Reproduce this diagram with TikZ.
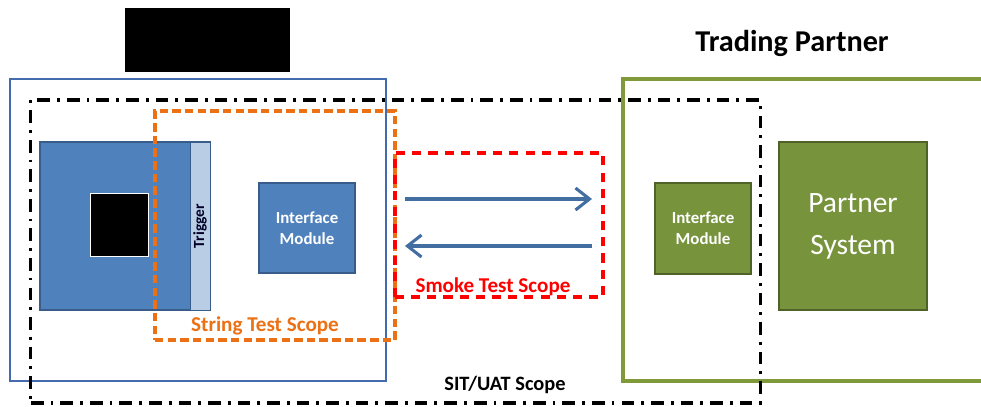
\documentclass[tikz,border=0pt]{standalone}
\usepackage{xcolor}
\usepackage{fontspec}
\setmainfont{Carlito}
\usepackage{tikz}
\usetikzlibrary{arrows.meta, positioning}
\definecolor{hostblue}{RGB}{68, 108, 172}
\definecolor{boxblue}{RGB}{79, 129, 189}
\definecolor{boxblueline}{RGB}{56, 93, 138}
\definecolor{triggerblue}{RGB}{185, 205, 229}
\definecolor{partnerolive}{RGB}{128, 154, 58}
\definecolor{boxgreen}{RGB}{119, 147, 60}
\definecolor{boxgreenline}{RGB}{79, 98, 40}
\definecolor{stringorange}{RGB}{236, 112, 20}
\definecolor{smokered}{RGB}{255, 0, 0}

\begin{document}
\begin{tikzpicture}[
    x=0.025cm, y=-0.025cm,
    every node/.style={inner sep=0pt, outer sep=0pt},
    area/.style={rectangle, line width=1.7pt},
    scopeline/.style={rectangle, line width=2.2pt},
    bluebox/.style={rectangle, draw=boxblueline, line width=0.9pt, fill=boxblue,
                    text=white, align=center},
    greenbox/.style={rectangle, draw=boxgreenline, line width=0.9pt, fill=boxgreen,
                     text=white, align=center},
    redacted/.style={rectangle, fill=black},
    flow/.style={draw=boxblue!85!black, line width=2.2pt,
                 -{Straight Barb[length=3.5mm, width=5.5mm]}},
    scopelabel/.style={font=\bfseries\fontsize{15}{17}\selectfont}
]
    \useasboundingbox (0,0) rectangle (981,407);

    % Titles
    \node[redacted, minimum width=4.125cm, minimum height=1.6cm] (hosttitle) at (207.5,40) {};
    \node[font=\bfseries\fontsize{21.5}{24}\selectfont] (partnertitle) at (792,43) {Trading Partner};

    % Organisation areas
    \node[area, draw=hostblue, minimum width=9.4cm, minimum height=7.55cm] (hostarea) at (198,230) {};
    \node[area, draw=partnerolive, line width=2.2pt, minimum width=9.3cm, minimum height=7.55cm] (partnerarea) at (809,230) {};

    % Host side
    \node[bluebox, minimum width=4.25cm, minimum height=4.2cm] (hostapp) at (125,226) {};
    \node[rectangle, draw=boxblueline, line width=0.6pt, fill=triggerblue,
          minimum width=0.5cm, minimum height=4.2cm] (trigger) at (200,226) {};
    \node[rotate=90, font=\bfseries\fontsize{11}{13}\selectfont, text=black!85!blue] (triggertext) at (trigger.center) {Trigger};
    \node[redacted, draw=white, line width=0.6pt, minimum width=1.45cm, minimum height=1.575cm] (hostcore) at (119,224.5) {};
    \node[bluebox, minimum width=2.4cm, minimum height=2.25cm,
          font=\bfseries\fontsize{12}{15}\selectfont] (hostmodule) at (307,228) {Interface\\Module};

    % Partner side
    \node[greenbox, minimum width=2.4cm, minimum height=2.275cm,
          font=\bfseries\fontsize{12}{15}\selectfont] (partnermodule) at (703,228.5) {Interface\\Module};
    \node[greenbox, minimum width=3.7cm, minimum height=4.2cm,
          font=\fontsize{21}{30}\selectfont] (partnersystem) at (853,226) {Partner\\System};

    % Test scopes
    \node[scopeline, draw=stringorange, dash pattern=on 6pt off 3pt,
          minimum width=6cm, minimum height=5.725cm] (stringscope) at (275,225.5) {};
    \node[scopeline, draw=smokered, dash pattern=on 6.5pt off 5pt,
          minimum width=5.2cm, minimum height=3.6cm] (smokescope) at (499,225) {};
    \node[scopeline, draw=black, dash pattern=on 9pt off 5pt on 2pt off 5pt,
          minimum width=18.225cm, minimum height=7.575cm] (sitscope) at (395.5,251.5) {};

    \node[scopelabel, text=stringorange] (stringlabel) at (265,326) {String Test Scope};
    \node[scopelabel, text=smokered] (smokelabel) at (493,287) {Smoke Test Scope};
    \node[scopelabel, font=\bfseries\fontsize{14.5}{17}\selectfont] (sitlabel) at (505,385) {SIT/UAT Scope};

    % Message flow
    \coordinate (outstart) at (405,199);
    \coordinate (outend) at (592,199);
    \coordinate (instart) at (592,246);
    \coordinate (inend) at (405,246);
    \draw[flow] (outstart) -- (outend);
    \draw[flow] (instart) -- (inend);

\end{tikzpicture}
\end{document}
